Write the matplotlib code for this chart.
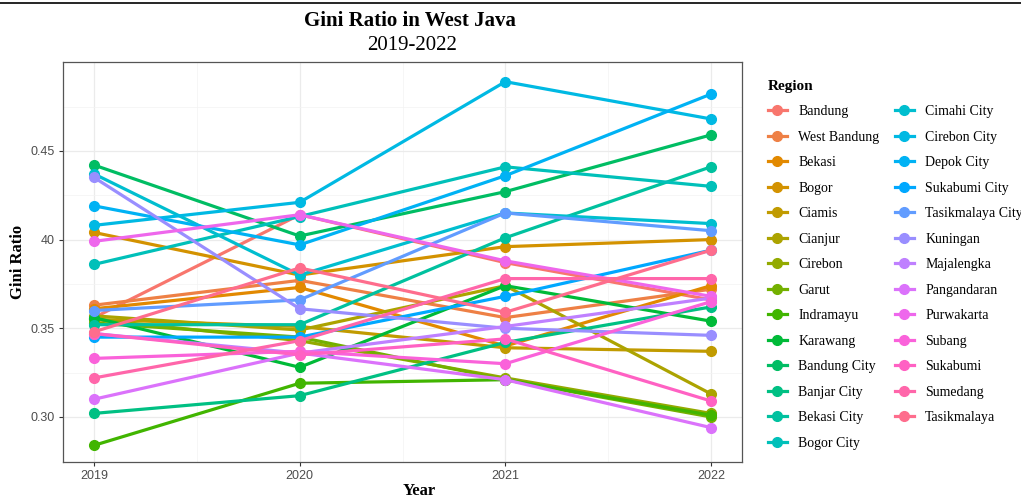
import numpy as np
import matplotlib
matplotlib.use("Agg")
import matplotlib.pyplot as plt
from matplotlib.lines import Line2D

# Gini ratio per regency / city, West Java
years = [2019, 2020, 2021, 2022]
regions = ["Bandung", "West Bandung", "Bekasi", "Bogor", "Ciamis", "Cianjur",
           "Cirebon", "Garut", "Indramayu", "Karawang", "Bandung City",
           "Banjar City", "Bekasi City", "Bogor City", "Cimahi City",
           "Cirebon City", "Depok City", "Sukabumi City", "Tasikmalaya City",
           "Kuningan", "Majalengka", "Pangandaran", "Purwakarta", "Subang",
           "Sukabumi", "Sumedang", "Tasikmalaya"]
gini_2019 = [0.356, 0.363, 0.361, 0.404, 0.355, 0.357, 0.355, 0.353, 0.284,
             0.356, 0.442, 0.302, 0.352, 0.386, 0.437, 0.408, 0.419, 0.345,
             0.360, 0.435, 0.347, 0.310, 0.399, 0.333, 0.347, 0.322, 0.348]
gini_2020 = [0.414, 0.377, 0.373, 0.380, 0.351, 0.349, 0.343, 0.345, 0.319,
             0.328, 0.402, 0.312, 0.352, 0.413, 0.380, 0.421, 0.397, 0.345,
             0.366, 0.361, 0.336, 0.336, 0.414, 0.337, 0.335, 0.343, 0.384]
gini_2021 = [0.387, 0.356, 0.340, 0.396, 0.339, 0.374, 0.322, 0.321, 0.321,
             0.374, 0.427, 0.342, 0.401, 0.441, 0.415, 0.489, 0.436, 0.368,
             0.415, 0.350, 0.351, 0.321, 0.388, 0.330, 0.344, 0.378, 0.359]
gini_2022 = [0.366, 0.372, 0.374, 0.400, 0.337, 0.313, 0.302, 0.300, 0.301,
             0.354, 0.459, 0.362, 0.441, 0.430, 0.409, 0.468, 0.482, 0.394,
             0.405, 0.346, 0.367, 0.294, 0.368, 0.365, 0.309, 0.378, 0.394]
y_ticks = [0.30, 0.35, 0.40, 0.45]
y_tick_labels = ["0.30", "0.35", "40", "0.45"]


def hcl_to_hex(h, c=100.0, l=65.0):
    # polar Luv -> sRGB, same as R's hcl()
    u = c * np.cos(np.radians(h))
    v = c * np.sin(np.radians(h))
    xn, yn, zn = 95.047, 100.0, 108.883
    un = 4 * xn / (xn + 15 * yn + 3 * zn)
    vn = 9 * yn / (xn + 15 * yn + 3 * zn)
    Y = yn * ((l + 16) / 116) ** 3
    up = u / (13 * l) + un
    vp = v / (13 * l) + vn
    X = Y * 9 * up / (4 * vp)
    Z = Y * (12 - 3 * up - 20 * vp) / (4 * vp)
    xyz = np.array([X, Y, Z]) / 100
    m = np.array([[3.2404542, -1.5371385, -0.4985314],
                  [-0.9692660, 1.8760108, 0.0415560],
                  [0.0556434, -0.2040259, 1.0572252]])
    rgb = m @ xyz
    rgb = np.where(rgb <= 0.0031308, 12.92 * rgb,
                   1.055 * np.power(np.clip(rgb, 0, None), 1 / 2.4) - 0.055)
    rgb = np.clip(rgb, 0, 1)
    return matplotlib.colors.to_hex(rgb)


n = len(regions)
hues = np.linspace(15, 375, n + 1)[:-1]
colors = [hcl_to_hex(h) for h in hues]

serif = ["Liberation Serif", "DejaVu Serif"]
sans = ["Liberation Sans", "DejaVu Sans"]

fig = plt.figure(figsize=(10.21, 4.98), dpi=100)
ax = fig.add_axes([63 / 1021, 1 - 462 / 498, (742 - 63) / 1021, 400 / 498])

values = np.array([gini_2019, gini_2020, gini_2021, gini_2022])
for i, name in enumerate(regions):
    ax.plot(years, values[:, i], color=colors[i], lw=2.3, marker="o",
            markersize=7, solid_capstyle="butt", zorder=3)

ax.set_xlim(2018.849, 2022.151)
ax.set_ylim(0.2746, 0.5001)
ax.set_xticks(years)
ax.set_xticklabels([str(y) for y in years], family=sans, fontsize=9,
                   color="#4D4D4D")
ax.set_yticks(y_ticks)
ax.set_yticklabels(y_tick_labels, family=sans, fontsize=9, color="#4D4D4D")
ax.set_xticks([2019.5, 2020.5, 2021.5], minor=True)
ax.set_yticks([0.325, 0.375, 0.425, 0.475], minor=True)
ax.grid(which="major", color="#EBEBEB", lw=0.9, zorder=0)
ax.grid(which="minor", color="#F3F3F3", lw=0.5, zorder=0)
ax.set_axisbelow(True)
ax.tick_params(which="major", length=3, width=0.8, color="#333333", pad=3)
ax.tick_params(which="minor", length=0)
for s in ax.spines.values():
    s.set_color("#555555")
    s.set_linewidth(0.9)

fig.text(410 / 1021, 1 - 21 / 498, "Gini Ratio in West Java", ha="center",
         va="center", family=serif, fontsize=15, fontweight="bold")
fig.text(412 / 1021, 1 - 46 / 498, "2019-2022", ha="center", va="center",
         family=serif, fontsize=15)
fig.text(419 / 1021, 1 - 491 / 498, "Year", ha="center", va="center",
         family=serif, fontsize=12, fontweight="bold")
fig.text(18 / 1021, 1 - 262 / 498, "Gini Ratio", ha="center", va="center",
         rotation=90, family=serif, fontsize=12, fontweight="bold")

# thin rule along the top edge
fig.add_artist(Line2D([0, 1], [1 - 3 / 498, 1 - 3 / 498], color="black",
                      lw=1.2, transform=fig.transFigure))

handles = [Line2D([], [], color=c, lw=2.3, marker="o", markersize=7)
           for c in colors]
leg = fig.legend(handles, regions, loc="upper left",
                 bbox_to_anchor=(762 / 1021, 1 - 74 / 498), ncol=2,
                 frameon=False, title="Region", alignment="left",
                 prop={"family": serif, "size": 10},
                 title_fontproperties={"family": serif, "size": 11,
                                       "weight": "bold"},
                 handlelength=1.4, handletextpad=0.8, labelspacing=0.9,
                 columnspacing=1.1, borderaxespad=0)

fig.savefig("out.png", dpi=100)
